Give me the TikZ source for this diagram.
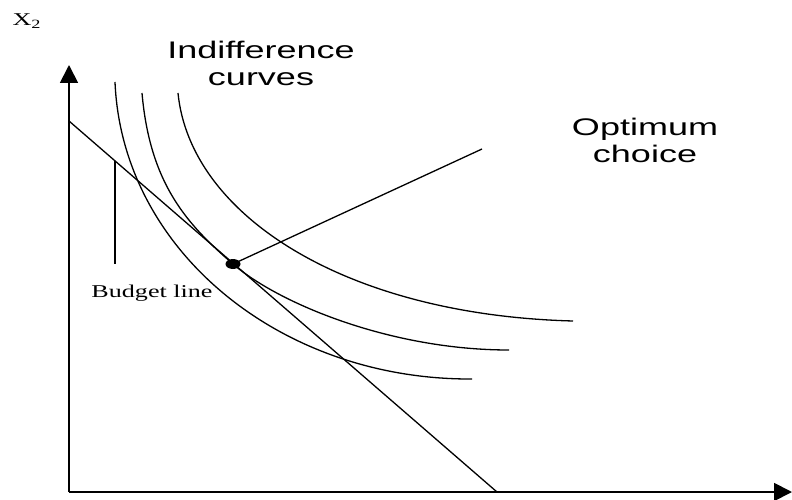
\documentclass[tikz,border=0pt]{standalone}
\usepackage{fontspec}
\setmainfont{Liberation Serif}
\setsansfont{Liberation Sans}
\usetikzlibrary{arrows.meta, positioning, shapes.geometric}

\begin{document}
\begin{tikzpicture}[
  x=1pt, y=-1pt,
  axis/.style={line width=1.8pt, -{Triangle[length=18pt, width=18pt]}},
  curve/.style={line width=1.3pt},
  optdot/.style={ellipse, fill, inner sep=0pt, minimum width=15pt, minimum height=10pt},
  seriflabel/.style={font=\fontsize{18}{20}\selectfont, xscale=1.45, inner sep=0pt},
  sanslabel/.style={font=\sffamily\fontsize{24}{27}\selectfont, align=center, xscale=1.5, inner sep=0pt}
]
  \useasboundingbox (0,0) rectangle (792,500);

  \coordinate (O) at (69,492);
  \coordinate (ytip) at (69,65);
  \coordinate (xtip) at (792,492);
  \coordinate (bltop) at (69,121);
  \coordinate (blend) at (497,492);
  \coordinate (marktop) at (115,161);
  \coordinate (markend) at (115,264);
  \coordinate (optend) at (482,149);
  \node[optdot] (opt) at (233,264) {};

  \draw[axis] (O) -- (ytip);
  \draw[axis] (O) -- (xtip);

  \draw[curve] (bltop) -- (blend);
  \draw[curve] (marktop) -- (markend);
  \draw[curve] (opt.center) -- (optend);

  % indifference curves
  \draw[curve] (115,82) .. controls (122,250) and (280,380) .. (472,379);
  \draw[curve] (142,93) .. controls (150,185) and (188,225) .. (opt.center)
               .. controls (278,303) and (390,350) .. (509,350);
  \draw[curve] (178,93) .. controls (190,215) and (345,315) .. (573,321);

  \node[seriflabel] (xlab) at (27,21) {X\textsubscript{2}};
  \node[seriflabel] (budget) at (152,293) {Budget line};
  \node[sanslabel] (indiff) at (261,63) {Indifference\\curves};
  \node[sanslabel] (choice) at (645,140) {Optimum\\choice};
\end{tikzpicture}
\end{document}
